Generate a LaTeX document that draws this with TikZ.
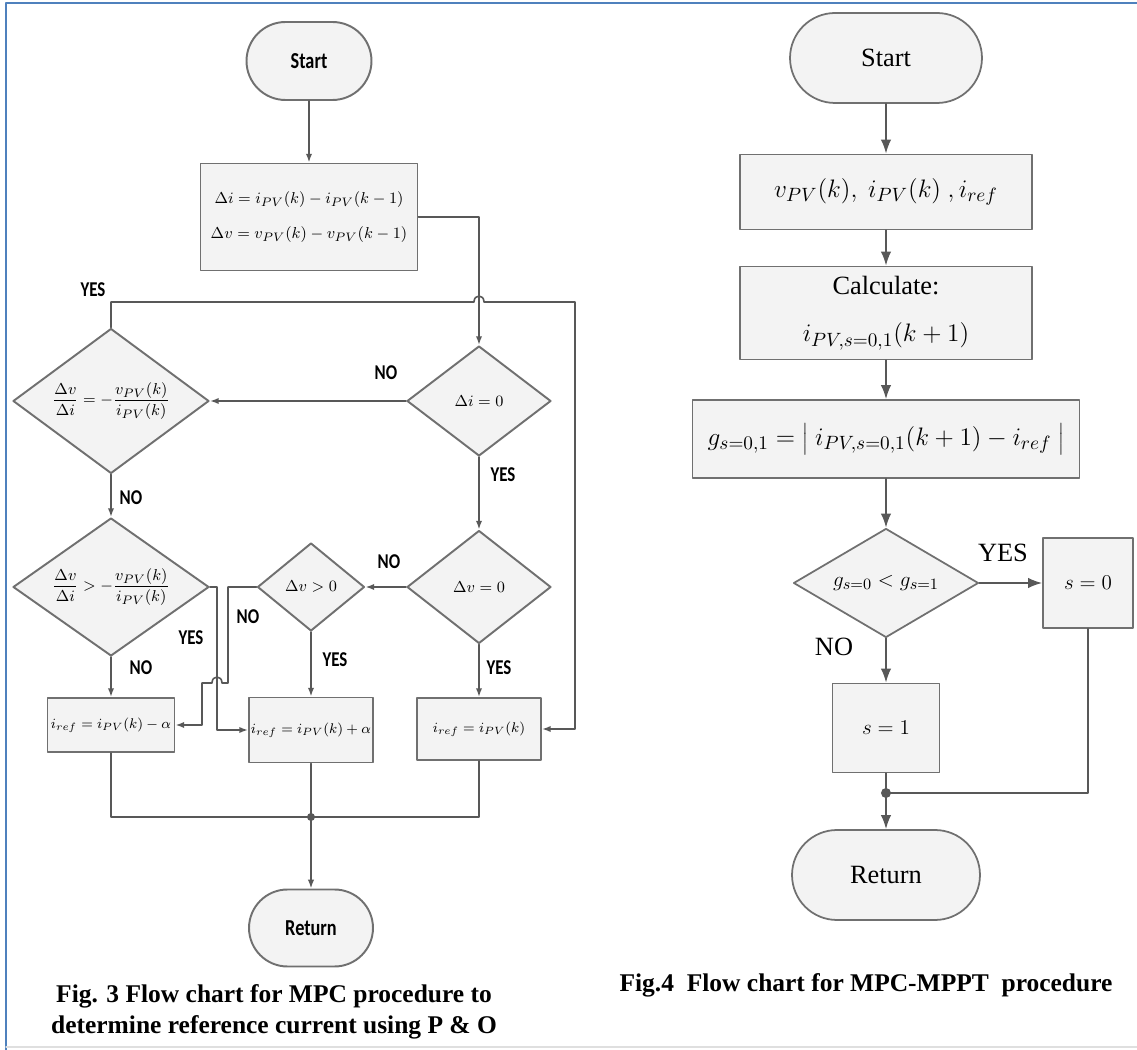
\documentclass[tikz,border=0pt]{standalone}
\usepackage{fontspec}
\setmainfont{Liberation Serif}
\newfontfamily\chartsans[FakeStretch=0.8]{Carlito}
\usetikzlibrary{shapes.geometric,shapes.misc,arrows.meta}
\definecolor{frameblue}{RGB}{79,129,189}
\definecolor{boxfill}{RGB}{243,243,243}
\definecolor{edgegray}{RGB}{112,112,112}
\definecolor{linegray}{RGB}{88,88,88}

\begin{document}
\begin{tikzpicture}[x=0.02cm,y=-0.02cm,line cap=round,line join=round,
  termL/.style={rounded rectangle,draw=edgegray,line width=1.1pt,fill=boxfill,inner sep=0pt,
    font=\chartsans\bfseries\fontsize{13}{15}\selectfont},
  procL/.style={rectangle,draw=edgegray,line width=1.1pt,fill=boxfill,inner sep=0pt,align=center,
    font=\fontsize{9.5}{20}\selectfont},
  refL/.style={procL,font=\fontsize{8.5}{10}\selectfont},
  decL/.style={diamond,draw=edgegray,line width=1.1pt,fill=boxfill,inner sep=0pt,
    font=\fontsize{9.5}{11}\selectfont},
  lblL/.style={inner sep=0pt,font=\chartsans\bfseries\fontsize{12}{14}\selectfont},
  lineL/.style={draw=linegray,line width=0.9pt},
  flowL/.style={lineL,-{Latex[length=5pt,width=3.6pt]}},
  termR/.style={rounded rectangle,draw=edgegray,line width=1pt,fill=boxfill,inner sep=0pt,
    font=\fontsize{15}{17}\selectfont},
  procR/.style={rectangle,draw=edgegray,line width=1pt,fill=boxfill,inner sep=0pt,align=center,
    font=\fontsize{15}{27}\selectfont},
  decR/.style={diamond,draw=edgegray,line width=1pt,fill=boxfill,inner sep=0pt,
    font=\fontsize{13}{15}\selectfont},
  lblR/.style={inner sep=0pt,font=\fontsize{15}{17}\selectfont},
  lineR/.style={draw=linegray,line width=1pt},
  flowR/.style={lineR,-{Latex[length=8pt,width=6pt]}},
  caption/.style={inner sep=0pt,align=center,font=\bfseries\fontsize{14.5}{17.6}\selectfont}]
\useasboundingbox (0,0) rectangle (1137,1050);
\draw[frameblue,line width=1.6pt] (6,1050) |- (1137,3);
\draw[gray!25,line width=0.6pt] (6,1047) -- (1137,1047);

% MPC procedure with P & O
\begin{scope}
\node[termL,minimum width=2.5cm,minimum height=1.56cm] (startL) at (309,61) {Start};
\node[procL,minimum width=4.34cm,minimum height=2.14cm] (boxA) at (309,217)
  {$\Delta i = i_{PV}(k) - i_{PV}(k-1)$\\ $\Delta v = v_{PV}(k) - v_{PV}(k-1)$};
\node[decL,minimum width=2.88cm,minimum height=2.2cm] (dDi) at (479,401) {$\Delta i = 0$};
\node[decL,shape aspect=1.35,minimum width=3.92cm,minimum height=2.9cm] (dEq) at (111,401)
  {$\displaystyle\frac{\Delta v}{\Delta i} = -\frac{v_{PV}(k)}{i_{PV}(k)}$};
\node[decL,shape aspect=1.4,minimum width=3.92cm,minimum height=2.76cm] (dGt) at (111,587)
  {$\displaystyle\frac{\Delta v}{\Delta i} > -\frac{v_{PV}(k)}{i_{PV}(k)}$};
\node[decL,minimum width=2.88cm,minimum height=2.26cm] (dDv) at (479,587) {$\Delta v = 0$};
\node[decL,minimum width=2.14cm,minimum height=1.76cm] (dPos) at (311,587) {$\Delta v > 0$};
\node[refL,minimum width=2.54cm,minimum height=1.08cm] (bMinus) at (111,725) {$i_{ref} = i_{PV}(k) - \alpha$};
\node[refL,minimum width=2.48cm,minimum height=1.3cm] (bPlus) at (311,730) {$i_{ref} = i_{PV}(k) + \alpha$};
\node[refL,minimum width=2.48cm,minimum height=1.24cm] (bHold) at (479,729) {$i_{ref} = i_{PV}(k)$};
\node[termL,minimum width=2.48cm,minimum height=1.54cm] (retL) at (311,928) {Return};
\coordinate (dotL) at (311,817);
\coordinate (yesTop) at (575,302);
\coordinate (hopYa) at (474,302);
\coordinate (hopYb) at (484,302);
\coordinate (gtYes) at (217,587);
\coordinate (posNo1) at (228,683);
\coordinate (hopNa) at (222,683);
\coordinate (hopNb) at (212,683);
\coordinate (posNo2) at (202,683);

\draw[flowL] (startL) -- (boxA);
\draw[flowL] (boxA.east) -| (dDi.north);
\draw[flowL] (dEq.north) |- (hopYa) .. controls +(0,-8) and +(0,-8) .. (hopYb) -- (yesTop) |- (bHold.east);
\draw[flowL] (dDi.west) -- (dEq.east);
\draw[flowL] (dDi.south) -- (dDv.north);
\draw[flowL] (dEq.south) -- (dGt.north);
\draw[flowL] (dDv.west) -- (dPos.east);
\draw[flowL] (dDv.south) -- (bHold.north);
\draw[flowL] (dPos.south) -- (bPlus.north);
\draw[flowL] (dGt.south) -- (bMinus.north);
\draw[flowL] (dGt.east) -- (gtYes) |- (bPlus.west);
\draw[flowL] (dPos.west) -| (posNo1) -- (hopNa) .. controls +(0,-8) and +(0,-8) .. (hopNb) -- (posNo2) |- (bMinus.east);
\draw[lineL] (bMinus.south) |- (dotL) -| (bHold.south);
\draw[lineL] (bPlus.south) -- (dotL);
\draw[flowL] (dotL) -- (retL);
\fill[linegray] (dotL) circle (4);

\node[lblL] (yesEq) at (93,290) {YES};
\node[lblL] (noDi) at (386,373) {NO};
\node[lblL] (yesDi) at (503,475) {YES};
\node[lblL] (noEq) at (131,498) {NO};
\node[lblL] (noDv) at (389,562) {NO};
\node[lblL] (noPos) at (248,617) {NO};
\node[lblL] (yesGt) at (191,638) {YES};
\node[lblL] (yesPos) at (335,660) {YES};
\node[lblL] (noGt) at (141,668) {NO};
\node[lblL] (yesDv) at (499,668) {YES};
\node[caption] (capL) at (274,1012) {Fig. 3 Flow chart for MPC procedure to\\ determine reference current using P \& O};
\end{scope}

% MPC-MPPT procedure
\begin{scope}
\node[termR,minimum width=3.84cm,minimum height=1.8cm] (startR) at (886,58) {Start};
\node[procR,minimum width=5.84cm,minimum height=1.5cm] (bIn) at (886,192) {$v_{PV}(k),\ i_{PV}(k)\ , i_{ref}$};
\node[procR,minimum width=5.84cm,minimum height=1.86cm] (bCalc) at (886,313) {Calculate:\\ $i_{PV,s=0,1}(k+1)$};
\node[procR,minimum width=7.74cm,minimum height=1.56cm] (bCost) at (886,439)
  {$g_{s=0,1} = \left|\; i_{PV,s=0,1}(k+1) - i_{ref} \;\right|$};
\node[decR,shape aspect=1.7,minimum width=3.7cm,minimum height=2.18cm] (dCmp) at (886,583) {$g_{s=0} < g_{s=1}$};
\node[procR,font=\fontsize{13}{15}\selectfont,minimum width=1.8cm,minimum height=1.8cm] (bS0) at (1088,583) {$s=0$};
\node[procR,font=\fontsize{13}{15}\selectfont,minimum width=2.14cm,minimum height=1.78cm] (bS1) at (886,728) {$s=1$};
\node[termR,minimum width=3.76cm,minimum height=1.8cm] (retR) at (886,875) {Return};
\coordinate (dotR) at (886,793);

\draw[flowR] (startR) -- (bIn);
\draw[flowR] (bIn) -- (bCalc);
\draw[flowR] (bCalc) -- (bCost);
\draw[flowR] (bCost) -- (dCmp);
\draw[flowR] (dCmp.east) -- (bS0.west);
\draw[flowR] (dCmp.south) -- (bS1.north);
\draw[lineR] (bS1.south) -- (dotR);
\draw[lineR] (bS0.south) |- (dotR);
\draw[flowR] (dotR) -- (retR);
\fill[linegray] (dotR) circle (5);

\node[lblR] (yesCmp) at (1003,553) {YES};
\node[lblR] (noCmp) at (834,647) {NO};
\node[caption] (capR) at (866,985) {Fig.4\ \ Flow chart for MPC-MPPT\ \ procedure};
\end{scope}
\end{tikzpicture}
\end{document}
